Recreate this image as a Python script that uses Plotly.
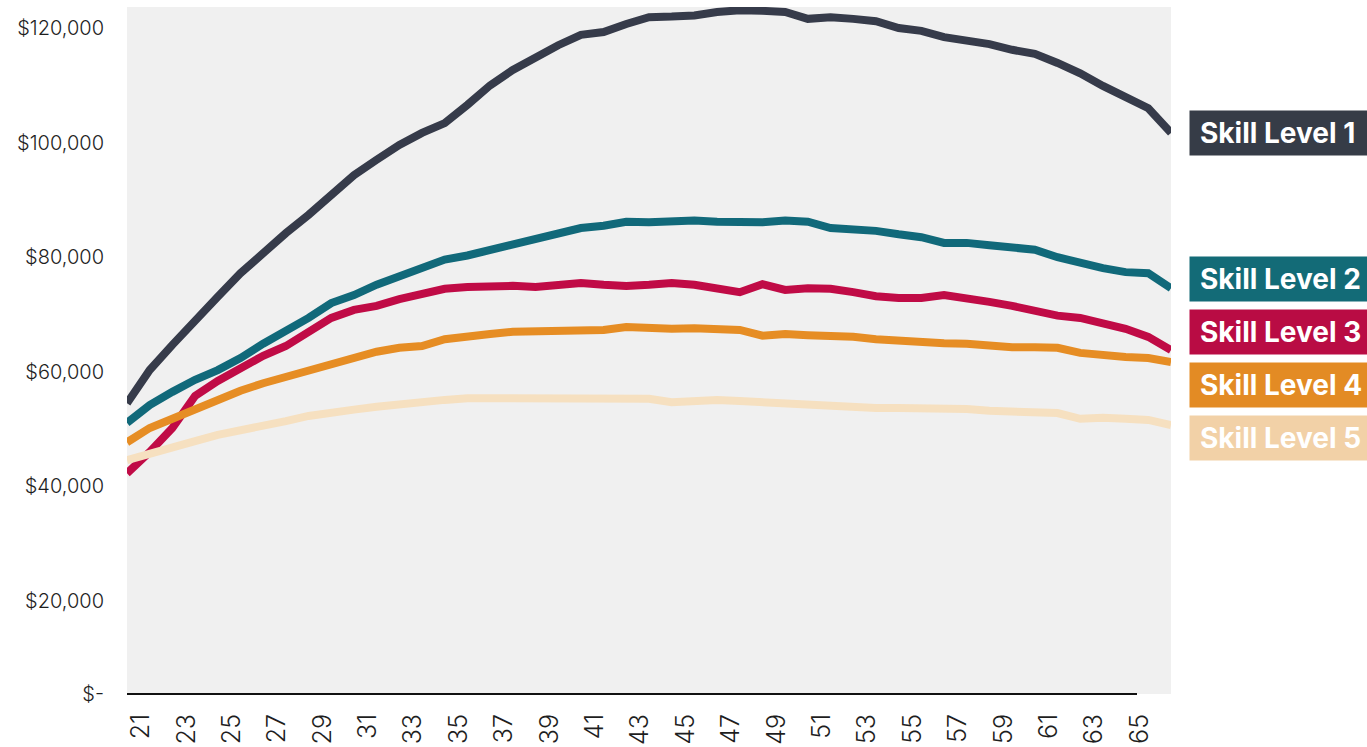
import plotly.graph_objects as go

ages = list(range(21, 68))

skill1 = [54.5, 60.3, 64.7, 68.7, 73.1, 77.2, 80.9, 84.2, 87.4, 90.9,
          94.3, 97.0, 99.6, 101.7, 103.4, 106.6, 110.0, 112.7, 114.9, 117.0,
          118.8, 119.3, 120.7, 121.9, 122.0, 122.2, 122.8, 123.1, 123.0, 122.8,
          121.6, 121.9, 121.6, 121.2, 120.0, 119.5, 118.4, 117.9, 117.2, 116.2,
          115.5, 113.9, 112.1, 109.9, 107.8, 106.0, 101.7]
skill2 = [51.1, 54.2, 56.5, 58.6, 60.3, 62.4, 64.9, 67.1, 69.4, 72.0,
          73.4, 75.2, 76.6, 78.3, 79.6, 80.3, 81.3, 82.4, 83.4, 84.4,
          85.1, 85.5, 86.2, 86.1, 86.3, 86.4, 86.2, 86.0, 86.1, 86.4,
          86.2, 85.1, 84.9, 84.6, 84.0, 83.5, 82.5, 82.5, 82.1, 81.8,
          81.3, 80.0, 79.0, 78.1, 77.4, 77.2, 74.6]
skill3 = [42.3, 46.0, 50.2, 55.8, 58.4, 60.7, 62.8, 64.5, 66.9, 69.4,
          70.8, 71.5, 72.7, 73.7, 74.5, 74.8, 75.0, 75.0, 74.8, 75.2,
          75.5, 75.2, 75.0, 75.2, 75.5, 75.2, 74.6, 73.9, 75.3, 74.3,
          74.6, 74.5, 73.9, 73.2, 72.9, 72.9, 73.4, 72.9, 72.2, 71.5,
          70.5, 69.8, 69.4, 68.5, 67.5, 66.1, 63.8]
skill4 = [47.7, 50.2, 51.8, 53.4, 55.3, 56.7, 58.0, 59.1, 60.2, 61.4,
          62.4, 63.5, 64.2, 64.5, 65.7, 66.3, 66.6, 67.0, 67.0, 67.1,
          67.3, 67.3, 67.8, 67.5, 67.5, 67.6, 67.5, 67.3, 66.3, 66.6,
          66.4, 66.3, 66.1, 65.7, 65.4, 65.2, 65.0, 64.9, 64.5, 64.3,
          64.3, 64.2, 63.3, 62.8, 62.6, 62.4, 61.7]
skill5 = [44.6, 45.6, 46.7, 47.9, 49.0, 49.7, 50.4, 51.4, 52.3, 53.0,
          53.4, 53.9, 54.4, 54.7, 55.1, 55.4, 55.4, 55.4, 55.4, 55.3,
          55.1, 55.1, 55.4, 55.3, 54.7, 54.9, 55.1, 54.9, 54.7, 54.5,
          54.0, 53.9, 53.7, 53.7, 53.7, 53.7, 53.7, 53.5, 53.2, 53.0,
          53.0, 52.8, 51.8, 52.0, 51.8, 51.6, 50.7]

series_names = ["Skill Level 1", "Skill Level 2", "Skill Level 3", "Skill Level 4", "Skill Level 5"]
series_values = [skill1, skill2, skill3, skill4, skill5]
line_colors = ["#363b4a", "#11697a", "#c00b46", "#e68d24", "#f6e0c0"]
box_colors = ["#363c47", "#136b77", "#b90c44", "#e38b24", "#f2d1a7"]
label_y_px = [133, 279, 331.5, 385, 438]

y_tick_vals = [3770, 20000, 40000, 60000, 80000, 100000, 120000]
y_tick_text = ["$-", "$20,000", "$40,000", "$60,000", "$80,000", "$100,000", "$120,000"]
x_tick_vals = list(range(21, 66, 2))

W, H = 1367, 747
L, R, T, B = 127, 196, 7, 53
plot_h = H - T - B
plot_w = W - L - R

fig = go.Figure()
for name, vals, col in zip(series_names, series_values, line_colors):
    fig.add_trace(go.Scatter(
        x=ages, y=[v * 1000 for v in vals], mode="lines", name=name,
        line=dict(color=col, width=8), hoverinfo="skip"))

for name, col, py in zip(series_names, box_colors, label_y_px):
    fig.add_annotation(
        xref="paper", yref="paper",
        x=(1189 - L) / plot_w, y=1 - (py - T) / plot_h,
        xanchor="left", yanchor="middle",
        text="<b>%s</b>" % name, showarrow=False,
        font=dict(family="Inter", size=28, color="white"),
        bgcolor=col, borderpad=10, width=190, height=24, align="left", valign="middle")

fig.add_shape(type="line", xref="paper", yref="paper",
              x0=0, x1=(1137 - L) / plot_w, y0=0, y1=0,
              line=dict(color="#111111", width=2))

fig.update_layout(
    width=W, height=H,
    margin=dict(l=L, r=R, t=T, b=B, autoexpand=False),
    paper_bgcolor="white", plot_bgcolor="#f0f0f0",
    showlegend=False,
    font=dict(family="Inter", color="#1e1e1e"),
)
fig.update_xaxes(range=[21, 67], tickvals=x_tick_vals, ticktext=[str(v) for v in x_tick_vals],
                 tickangle=-90, tickfont=dict(size=25, family="Inter", color="#1e1e1e", weight=300),
                 showgrid=False, zeroline=False, showline=False, ticks="",
                 ticklabelshift=14, ticklabelstandoff=14, automargin=False)
fig.update_yaxes(range=[3770, 123670], tickvals=y_tick_vals, ticktext=y_tick_text,
                 tickfont=dict(size=20, family="Inter", color="#1e1e1e", weight=300),
                 showgrid=False, zeroline=False, showline=False, ticks="",
                 ticklabelstandoff=22, automargin=False)

fig.write_html("out.html", config={"displayModeBar": False},
               post_script="document.body.style.margin='0';document.body.style.overflow='hidden';")
